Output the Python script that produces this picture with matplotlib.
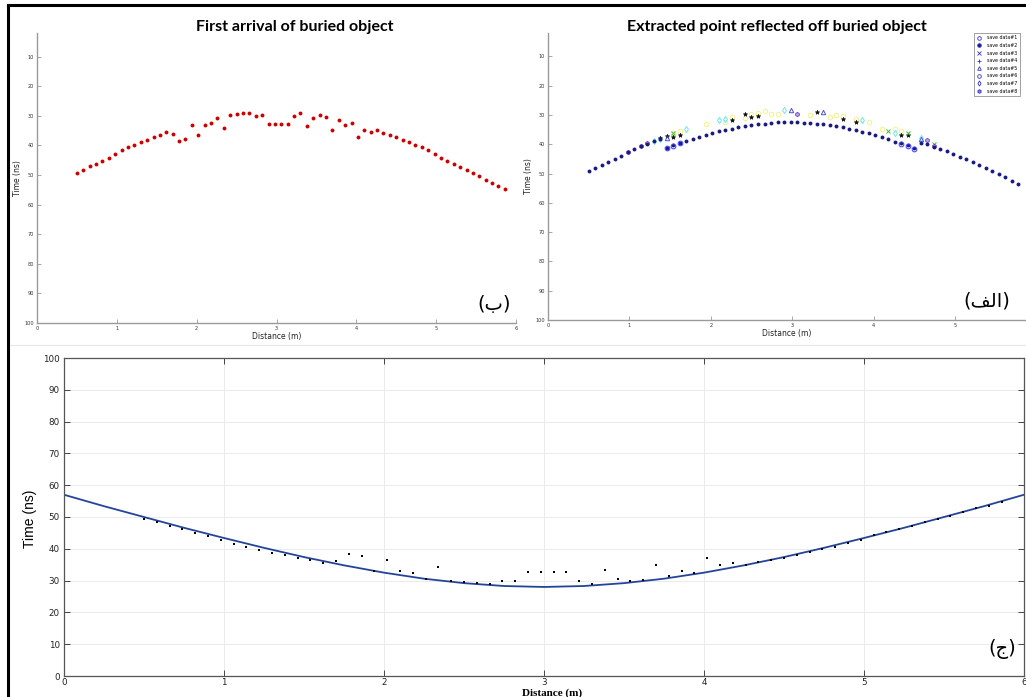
import matplotlib
matplotlib.use("Agg")
import matplotlib.pyplot as plt
from matplotlib.lines import Line2D

# picked first-arrival times (ns) along the profile (m)
distance = [0.50, 0.58, 0.66, 0.74, 0.82, 0.90, 0.98, 1.06, 1.14, 1.22,
            1.30, 1.38, 1.46, 1.54, 1.62, 1.70, 1.78, 1.86, 1.94, 2.02,
            2.10, 2.18, 2.26, 2.34, 2.42, 2.50, 2.58, 2.66, 2.74, 2.82,
            2.90, 2.98, 3.06, 3.14, 3.22, 3.30, 3.38, 3.46, 3.54, 3.62,
            3.70, 3.78, 3.86, 3.94, 4.02, 4.10, 4.18, 4.26, 4.34, 4.42,
            4.50, 4.58, 4.66, 4.74, 4.82, 4.90, 4.98, 5.06, 5.14, 5.22,
            5.30, 5.38, 5.46, 5.54, 5.62, 5.70, 5.78, 5.86]
first_arrival = [49.4, 48.3, 47.1, 46.2, 45.1, 44.1, 42.8, 41.6, 40.6, 39.7,
                 38.8, 38.0, 37.2, 36.4, 35.6, 36.2, 38.4, 37.7, 33.0, 36.4,
                 33.0, 32.4, 30.6, 34.2, 29.8, 29.5, 29.2, 28.9, 29.9, 29.8,
                 32.6, 32.6, 32.6, 32.7, 30.0, 28.9, 33.3, 30.6, 29.8, 30.3,
                 34.9, 31.3, 33.0, 32.4, 37.1, 34.8, 35.5, 34.9, 35.8, 36.5,
                 37.2, 38.0, 38.9, 39.8, 40.6, 41.7, 42.9, 44.2, 45.2, 46.2,
                 47.3, 48.3, 49.4, 50.4, 51.6, 52.7, 53.6, 54.8]

# extracted reflection points (panel الف)
save2_y = [49.2, 48.2, 47.1, 46.0, 45.0, 44.0, 42.8, 41.7, 40.7, 39.8,
           39.0, 38.3, 41.3, 40.4, 39.6, 38.9, 38.2, 37.4, 36.8, 36.3,
           35.6, 35.0, 34.7, 34.2, 33.9, 33.4, 33.2, 33.0, 32.7, 32.5,
           32.4, 32.4, 32.5, 32.6, 32.7, 33.0, 33.2, 33.5, 33.9, 34.2,
           34.7, 35.1, 35.7, 36.3, 37.0, 37.6, 38.3, 39.1, 39.7, 40.4,
           41.3, 39.4, 40.0, 40.8, 41.6, 42.4, 43.3, 44.2, 45.1, 46.0,
           47.0, 48.0, 49.1, 50.2, 51.3, 52.5, 53.7]
save1_x = [1.46, 1.54, 1.62, 4.34, 4.42, 4.50]
save1_y = [41.3, 40.5, 39.7, 39.8, 40.6, 41.5]
save3_x = [1.54, 4.18, 4.42, 4.74]
save3_y = [36.3, 35.4, 36.3, 39.8]
save4_x = [1.38, 1.46, 1.54, 1.62, 2.26, 2.42, 2.50, 2.58, 3.30, 3.62, 3.78, 4.34, 4.42]
save4_y = [38.0, 37.2, 37.4, 36.8, 31.7, 29.7, 30.6, 30.4, 28.9, 31.3, 32.4, 36.7, 37.0]
save5_x = [1.46, 2.98, 3.38, 4.58]
save5_y = [38.0, 28.2, 29.0, 38.2]
save6_x = [1.54, 1.62, 1.94, 2.18, 2.26, 2.42, 2.50, 2.58, 2.66, 2.74,
           2.82, 3.22, 3.46, 3.54, 3.62, 3.78, 3.94, 4.10, 4.26, 4.34]
save6_y = [36.1, 35.4, 33.0, 32.4, 30.7, 31.0, 29.6, 29.3, 28.6, 29.8,
           29.6, 29.9, 30.7, 29.9, 30.2, 31.3, 32.3, 34.7, 34.7, 35.6]
save7_x = [1.30, 1.38, 1.70, 2.10, 2.18, 2.90, 3.86, 4.26, 4.58]
save7_y = [38.9, 38.2, 34.8, 31.7, 31.2, 28.3, 31.7, 36.1, 37.8]
save8_x = [0.98, 1.14, 1.22, 3.06, 4.66, 4.74]
save8_y = [42.6, 40.5, 39.5, 29.7, 38.5, 40.6]

fit_x = [0.0, 0.25, 0.5, 0.75, 1.0, 1.25, 1.5, 1.75, 2.0, 2.25, 2.5, 2.75, 3.0,
         3.25, 3.5, 3.75, 4.0, 4.25, 4.5, 4.75, 5.0, 5.25, 5.5, 5.75, 6.0]
fit_y = [57.0, 53.4, 50.0, 46.6, 43.4, 40.3, 37.4, 34.8, 32.5, 30.6, 29.2, 28.3, 28.0,
         28.3, 29.2, 30.6, 32.5, 34.8, 37.4, 40.3, 43.4, 46.6, 50.0, 53.4, 57.0]

legend_labels = ["save data#%d" % i for i in range(1, 9)]

W, H = 1026, 697
fig = plt.figure(figsize=(W / 100, H / 100), dpi=100)


def px_box(left, top, right, bottom):
    return [left / W, 1 - bottom / H, (right - left) / W, (bottom - top) / H]


def style_top(ax, xmax):
    for s in ["top", "right"]:
        ax.spines[s].set_visible(False)
    for s in ["left", "bottom"]:
        ax.spines[s].set_color("#9a9a9a")
        ax.spines[s].set_linewidth(1.0)
    ax.set_xlim(0, xmax)
    ax.set_ylim(100, 2)
    ax.set_xticks(range(0, int(xmax) + 1))
    ax.set_yticks(range(10, 101, 10))
    ax.tick_params(direction="in", length=3, width=0.6, colors="#9a9a9a",
                   labelcolor="#333333", labelsize=3.6, pad=2)
    ax.set_xlabel("Distance (m)", fontsize=5.5, labelpad=1, color="#222222")
    ax.set_ylabel("Time (ns)", fontsize=5.5, labelpad=2, color="#222222")


# panel ب : raw first arrivals
ax1 = fig.add_axes(px_box(37, 33, 516, 323))
ax1.plot(distance, first_arrival, "o", color="#cc0000", markersize=2.8,
         markeredgewidth=0)
style_top(ax1, 6)
ax1.text(0.955, 0.065, "(ب)", transform=ax1.transAxes, ha="center", va="center",
         fontsize=14, family=["DejaVu Sans"])

# panel الف : extracted points
ax2 = fig.add_axes(px_box(548, 33, 1025, 320))
ax2.plot(save6_x, save6_y, "o", mfc="none", mec="#f2f28a", ms=3.2, mew=0.7)
ax2.plot(save7_x, save7_y, "d", mfc="none", mec="#6fe6f0", ms=3.2, mew=0.7)
ax2.plot(save4_x, save4_y, "*", color="#111111", ms=3.2, mew=0.5)
ax2.plot(save3_x, save3_y, "x", color="#38c038", ms=2.8, mew=0.7)
ax2.plot(save5_x, save5_y, "^", mfc="none", mec="#5050e0", ms=3.2, mew=0.7)
ax2.plot(save8_x, save8_y, "h", mfc="#b8a8f0", mec="#6a3fc0", ms=3.0, mew=0.6)
ax2.plot(distance[:len(save2_y)], save2_y, "o", color="#1a1a80", ms=2.8, mew=0)
ax2.plot(save1_x, save1_y, "o", mfc="none", mec="#3a3aff", ms=3.4, mew=0.7)
style_top(ax2, 5.86)
ax2.text(0.92, 0.065, "(\ufed2\ufedf\ufe8d)", transform=ax2.transAxes,
         ha="center", va="center", fontsize=14, family=["DejaVu Sans"])

markers = ["o", "o", "x", "+", "^", "o", "d", "h"]
fills = ["none", "#1a1a80", "none", "none", "none", "none", "none", "#8080f0"]
handles = [Line2D([], [], linestyle="none", marker=m, mfc=f, mec="#3030d0",
                  ms=2.6, mew=0.6) for m, f in zip(markers, fills)]
leg = ax2.legend(handles, legend_labels, loc="upper right",
                 bbox_to_anchor=(0.99, 1.0), fontsize=3.4, frameon=True,
                 fancybox=False, handlelength=1.2, handletextpad=1.2,
                 labelspacing=0.55, borderpad=0.5, borderaxespad=0)
leg.get_frame().set_edgecolor("#777777")
leg.get_frame().set_linewidth(0.6)

# titles
fig.text(295 / W, 1 - 27 / H, "First arrival of buried object", ha="center",
         va="center", fontsize=11.5, fontweight="bold", family="Lato")
fig.text(777 / W, 1 - 27 / H, "Extracted point reflected off buried object",
         ha="center", va="center", fontsize=11.5, fontweight="bold", family="Lato")

# panel ج : picks with fitted hyperbola
ax3 = fig.add_axes(px_box(64, 358, 1024, 676))
ax3.grid(True, color="#e8e8e8", linewidth=0.6)
ax3.set_axisbelow(True)
ax3.plot(fit_x, fit_y, "-", color="#23449a", linewidth=1.3)
ax3.plot(distance, first_arrival, "s", color="black", markersize=1.8, mew=0)
ax3.set_xlim(0, 6)
ax3.set_ylim(0, 100)
ax3.set_xticks(range(0, 7))
ax3.set_yticks(range(0, 101, 10))
for s in ax3.spines.values():
    s.set_color("#555555")
    s.set_linewidth(0.9)
ax3.tick_params(direction="in", length=4, width=0.7, top=True, right=True,
                colors="#444444", labelcolor="#222222", labelsize=6.3)
ax3.tick_params(axis="x", pad=1.5)
ax3.tick_params(axis="y", pad=3)
ax3.text(0.977, 0.085, "(ج)", transform=ax3.transAxes, ha="center", va="center",
         fontsize=14, family=["DejaVu Sans"])
fig.text(30 / W, 1 - 519 / H, "Time (ns)", rotation=90, ha="center", va="center",
         fontsize=10, family="Liberation Sans")
fig.text(552 / W, 1 - 693 / H, "Distance (m)", ha="center", va="center",
         fontsize=8, fontweight="bold", family="Liberation Serif")

# outer frame
fig.add_artist(Line2D([8 / W, 8 / W], [0, 1 - 5 / H], color="black", lw=2.2))
fig.add_artist(Line2D([8 / W, 1], [1 - 5 / H, 1 - 5 / H], color="black", lw=2.2))
fig.add_artist(Line2D([10 / W, 1], [1 - 345 / H, 1 - 345 / H], color="#e6e6e6", lw=0.8))

fig.savefig("out.png", dpi=100)
